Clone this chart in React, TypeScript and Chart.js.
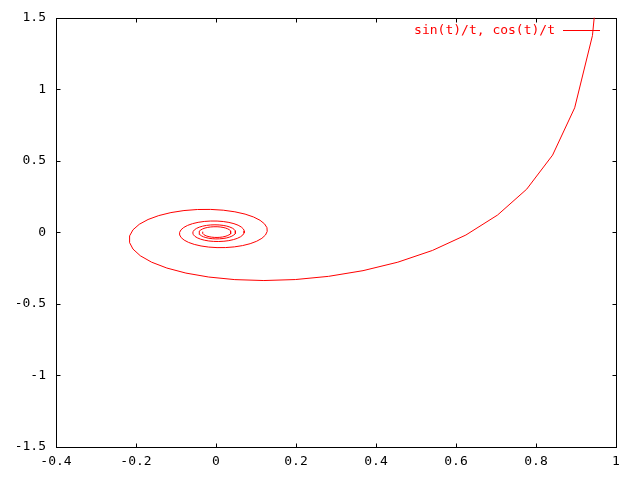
import React, { useEffect, useRef } from "react";
import { Chart, registerables } from "chart.js";

Chart.register(...registerables);

// Parametric curve samples: x = sin(t)/t, y = cos(t)/t
const seriesLabel = "sin(t)/t, cos(t)/t";

const xValues: number[] = [
  0.9736, 0.9411, 0.8967, 0.8415, 0.7767, 0.7039, 0.6247, 0.541, 0.4546, 0.3675,
  0.2814, 0.1983, 0.1196, 0.047, -0.0182, -0.0752, -0.1229, -0.161, -0.1892, -0.2075,
  -0.2163, -0.216, -0.2075, -0.1918, -0.1699, -0.1431, -0.1127, -0.0801, -0.0466, -0.0134,
  0.0182, 0.0472, 0.0727, 0.0939, 0.1102, 0.1214, 0.1274, 0.128, 0.1237, 0.1147,
  0.1017, 0.0854, 0.0665, 0.0458, 0.0242, 0.0026, -0.0182, -0.0374, -0.0544, -0.0686,
  -0.0796, -0.0871, -0.0908, -0.0909, -0.0874, -0.0806, -0.0709, -0.0588, -0.0447, -0.0294,
  -0.0134, 0.0027, 0.0181, 0.0323, 0.0449, 0.0553, 0.0632, 0.0684, 0.0708, 0.0703,
  0.0671, 0.0613, 0.0533, 0.0434, 0.032, 0.0198, 0.0069, -0.0058, -0.018, -0.0292,
  -0.0389, -0.0469, -0.0528, -0.0566, -0.058, -0.0571, -0.054, -0.0489, -0.0417, -0.0332,
  -0.0236, -0.0133, -0.0026, 0.0079, 0.0179, 0.027, 0.0348, 0.0411, 0.0456, 0.0483,
  0.049, 0.0478, 0.0447, 0.0398, 0.0336, 0.0261, 0.0177, 0.0089, -0.0004, -0.0093,
  -0.0178, -0.0253, -0.0317, -0.0368, -0.0403, -0.0421, -0.0423, -0.0409, -0.0377, -0.0332,
  -0.0274, -0.0207, -0.0132, -0.0053, 0.0027, 0.0104, 0.0176, 0.024, 0.0293, 0.0334,
  0.0362, 0.0374, 0.0371, 0.0354, 0.0323, 0.028, 0.0226, 0.0165, 0.0097, 0.0026,
  -0.0044, -0.0112, -0.0174, -0.0229, -0.0274, -0.0307, -0.0327, -0.0335, -0.0329,
];

const yValues: number[] = [
  2.3027, 1.3756, 0.8709, 0.5403, 0.302, 0.1214, -0.0183, -0.1262, -0.2081, -0.2675,
  -0.3072, -0.3296, -0.3365, -0.33, -0.312, -0.2844, -0.2491, -0.2082, -0.1634, -0.1167,
  -0.0698, -0.0244, 0.0182, 0.0567, 0.0901, 0.1175, 0.1385, 0.1527, 0.16, 0.1607,
  0.1552, 0.144, 0.1279, 0.1077, 0.0845, 0.0593, 0.0331, 0.0069, -0.0182, -0.0414,
  -0.0618, -0.0789, -0.0922, -0.1012, -0.106, -0.1064, -0.1026, -0.0949, -0.0839, -0.07,
  -0.0539, -0.0364, -0.018, 0.0004, 0.0181, 0.0345, 0.049, 0.0611, 0.0703, 0.0765,
  0.0795, 0.0793, 0.076, 0.0698, 0.0611, 0.0502, 0.0377, 0.024, 0.0098, -0.0044,
  -0.018, -0.0306, -0.0416, -0.0506, -0.0575, -0.0618, -0.0637, -0.063, -0.0599, -0.0544,
  -0.0469, -0.0378, -0.0274, -0.0162, -0.0045, 0.0067, 0.0177, 0.0277, 0.0367, 0.0438,
  0.0489, 0.0521, 0.0531, 0.052, 0.0489, 0.0439, 0.0373, 0.0294, 0.0204, 0.0108,
  0.001, -0.0087, -0.0178, -0.0261, -0.0332, -0.0388, -0.0428, -0.045, -0.0455, -0.0441,
  -0.041, -0.0363, -0.0303, -0.0232, -0.0153, -0.0072, 0.0016, 0.0095, 0.0177, 0.0246,
  0.0305, 0.035, 0.0381, 0.0396, 0.0396, 0.038, 0.0349, 0.0304, 0.0249, 0.0184,
  0.0113, 0.0039, -0.0036, -0.0108, -0.0175, -0.0234, -0.0283, -0.032, -0.0344, -0.0354,
  -0.0349, -0.0331, -0.03, -0.0258, -0.0206, -0.0147, -0.0083, -0.002, 0.0051,
];

const xTickValues = [-0.4, -0.2, 0, 0.2, 0.4, 0.6, 0.8, 1];
const yTickValues = [-1.5, -1, -0.5, 0, 0.5, 1, 1.5];

const FONT = "'DejaVu Sans Mono', 'Liberation Mono', monospace";
const TICK_LEN = 4;

const fmt = (v: number) => {
  const r = Math.round(v * 10) / 10;
  return String(r === 0 ? 0 : r);
};

const framePlugin = {
  id: "gnuFrame",
  beforeDatasetsDraw(chart: any) {
    const { ctx, chartArea: a, scales } = chart;
    const L = Math.round(a.left) + 0.5;
    const R = Math.round(a.right) + 0.5;
    const T = Math.round(a.top) + 0.5;
    const B = Math.round(a.bottom) + 0.5;
    ctx.save();
    ctx.strokeStyle = "#000000";
    ctx.lineWidth = 1;
    ctx.setLineDash([]);
    ctx.strokeRect(L, T, R - L, B - T);
    for (const v of xTickValues) {
      const px = Math.round(scales.x.getPixelForValue(v)) + 0.5;
      ctx.beginPath();
      ctx.moveTo(px, B);
      ctx.lineTo(px, B - TICK_LEN);
      ctx.stroke();
      ctx.beginPath();
      ctx.moveTo(px, T);
      ctx.lineTo(px, T + TICK_LEN);
      ctx.stroke();
    }
    for (const v of yTickValues) {
      const py = Math.round(scales.y.getPixelForValue(v)) + 0.5;
      ctx.beginPath();
      ctx.moveTo(L, py);
      ctx.lineTo(L + TICK_LEN, py);
      ctx.stroke();
      ctx.beginPath();
      ctx.moveTo(R, py);
      ctx.lineTo(R - TICK_LEN, py);
      ctx.stroke();
    }
    ctx.restore();
  },
  afterDraw(chart: any) {
    const { ctx, chartArea: a } = chart;
    const ds = chart.data.datasets[0];
    const lineY = Math.round(a.top + 12) + 0.5;
    const lineEnd = a.right - 16;
    const lineStart = lineEnd - 37;
    ctx.save();
    ctx.font = `13px ${FONT}`;
    ctx.fillStyle = ds.borderColor;
    ctx.textAlign = "right";
    ctx.textBaseline = "middle";
    ctx.fillText(ds.label, lineStart - 8, lineY);
    ctx.strokeStyle = ds.borderColor;
    ctx.lineWidth = 1;
    ctx.beginPath();
    ctx.moveTo(lineStart, lineY);
    ctx.lineTo(lineEnd, lineY);
    ctx.stroke();
    ctx.restore();
  },
};

export default function App() {
  const ref = useRef<HTMLCanvasElement>(null);
  useEffect(() => {
    document.body.style.margin = "0";
    const points = xValues.map((x, i) => ({ x, y: yValues[i] }));
    const chart = new Chart(ref.current!, {
      type: "scatter",
      data: {
        datasets: [
          {
            label: seriesLabel,
            data: points,
            showLine: true,
            borderColor: "#ff0000",
            backgroundColor: "#ff0000",
            borderWidth: 1,
            pointRadius: 0,
            tension: 0,
          },
        ],
      },
      options: {
        responsive: false,
        animation: false,
        layout: { padding: { top: 16, right: 24, left: 0, bottom: 0 } },
        plugins: { legend: { display: false }, tooltip: { enabled: false } },
        scales: {
          x: {
            type: "linear",
            min: xTickValues[0],
            max: xTickValues[xTickValues.length - 1],
            afterBuildTicks(s: any) {
              s.ticks = xTickValues.map((value) => ({ value }));
            },
            ticks: {
              color: "#000",
              font: { family: FONT, size: 13 },
              padding: 7,
              maxRotation: 0,
              autoSkip: false,
              callback: (v: any) => fmt(Number(v)),
            },
            grid: { display: false, drawTicks: false },
            border: { display: false },
            afterFit(s: any) {
              s.height = 33;
            },
          },
          y: {
            type: "linear",
            min: yTickValues[0],
            max: yTickValues[yTickValues.length - 1],
            afterBuildTicks(s: any) {
              s.ticks = yTickValues.map((value) => ({ value }));
            },
            ticks: {
              color: "#000",
              font: { family: FONT, size: 13 },
              padding: 10,
              autoSkip: false,
              callback: (v: any) => fmt(Number(v)),
            },
            grid: { display: false, drawTicks: false },
            border: { display: false },
            afterFit(s: any) {
              s.width = 56;
            },
          },
        },
      },
      plugins: [framePlugin],
    });
    return () => chart.destroy();
  }, []);
  return (
    <div style={{ width: 640, height: 480 }}>
      <canvas ref={ref} width={640} height={480} style={{ display: "block" }} />
    </div>
  );
}
